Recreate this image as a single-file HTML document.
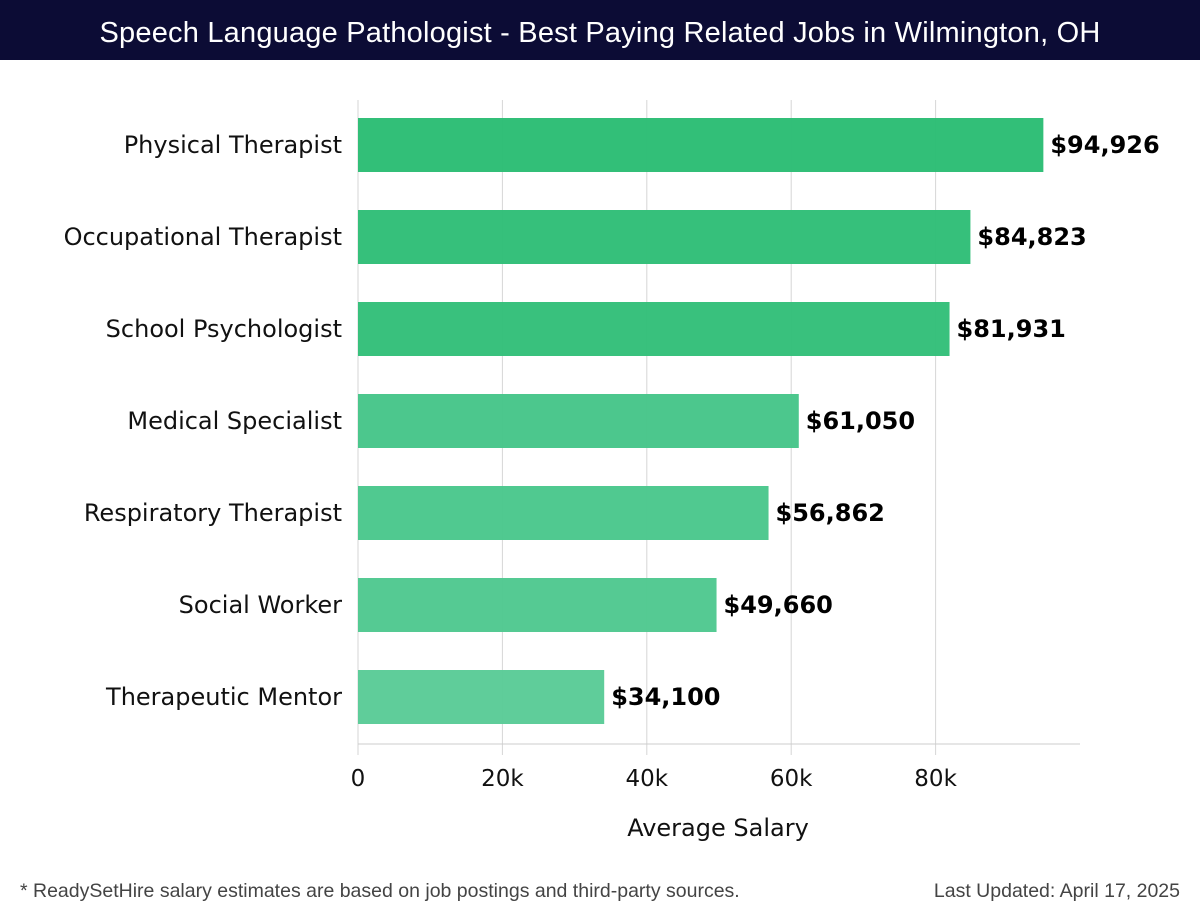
<!DOCTYPE html>
<html><head><meta charset="utf-8"><style>
body{margin:0;width:1200px;height:920px;background:#fff;font-family:"DejaVu Sans","Liberation Sans",sans-serif;overflow:hidden}
#title{position:absolute;left:0;top:0;width:1200px;height:60px;background:#0c0c35;color:#fff;font:29px "Liberation Sans",sans-serif;text-align:center;line-height:66px;letter-spacing:0.2px}
.foot{position:absolute;top:880px;font:19.5px "Liberation Sans",sans-serif;color:#444}
</style></head><body>
<div id="title">Speech Language Pathologist - Best Paying Related Jobs in Wilmington, OH</div>
<svg id="chart" width="1200" height="920" style="position:absolute;left:0;top:0"></svg>
<div class="foot" style="left:20px">* ReadySetHire salary estimates are based on job postings and third-party sources.</div>
<div class="foot" style="right:20px">Last Updated: April 17, 2025</div>
<script>
const categories=["Physical Therapist","Occupational Therapist","School Psychologist","Medical Specialist","Respiratory Therapist","Social Worker","Therapeutic Mentor"];
const values=[94926,84823,81931,61050,56862,49660,34100];
const valueLabels=["$94,926","$84,823","$81,931","$61,050","$56,862","$49,660","$34,100"];
const ticks=[0,20000,40000,60000,80000];
const tickLabels=["0","20k","40k","60k","80k"];
const colors=["#2bbd74","#2fbe77","#33bf79","#46c589","#4ac78c","#4fc88f","#5acb97"];
const svg=document.getElementById('chart');
const NS="http://www.w3.org/2000/svg";
const x=v=>358+v*0.00722;
const y=i=>145+i*92;
function mk(t,a,txt){const e=document.createElementNS(NS,t);for(const k in a)e.setAttribute(k,a[k]);if(txt!==undefined)e.textContent=txt;svg.appendChild(e);return e;}
ticks.forEach((t,i)=>{
 const g=mk('line',{x1:x(t),x2:x(t),y1:100,y2:755,stroke:'#d6d6d6','stroke-width':1});
 
 
 const l=mk('text',{x:x(t),y:786,'text-anchor':'middle','font-size':23,fill:'#111'},tickLabels[i]);
 
 
});
const ax=mk('line',{x1:358,x2:1080,y1:744,y2:744,stroke:'#ccc','stroke-width':1});


categories.forEach((c,i)=>{
 const b=mk('rect',{x:358,y:y(i)-27,width:x(values[i])-358,height:54,fill:colors[i],'fill-opacity':0.97});
 
 
 const l=mk('text',{x:342,y:y(i)+8,'text-anchor':'end','font-size':24,fill:'#111'},c);
 
 
 const v=mk('text',{x:x(values[i])+7,y:y(i)+8,'font-size':24,'font-weight':'bold',fill:'#000'},valueLabels[i]);
 
 
});
const at=mk('text',{x:718,y:836,'text-anchor':'middle','font-size':24,fill:'#111'},'Average Salary');


</script>
</body></html>
